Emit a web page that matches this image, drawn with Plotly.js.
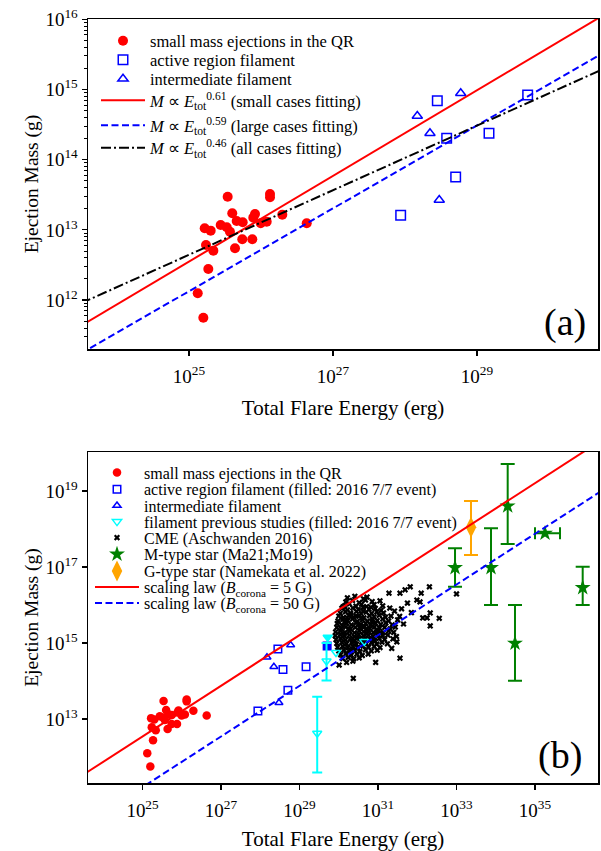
<!DOCTYPE html>
<html><head><meta charset="utf-8">
<script src="https://cdn.plot.ly/plotly-3.0.1.min.js"></script>
<style>body{margin:0;padding:0;background:#fff}</style>
</head><body><div id="chart" style="width:601px;height:851px"></div>
<script>
// ---- data (log10 exponents) ----
const qrExpE = [25.537,26.125,26.125,25.601,25.917,26.296,25.218,25.301,25.440,25.524,25.569,25.662,25.746,25.893,25.996,26.079,26.635,25.740,25.879,25.236,25.338,25.639,25.268,25.121,25.199];
const qrExpM = [13.473,13.511,13.464,13.236,13.226,13.217,13.023,12.989,13.070,13.037,12.974,13.127,13.108,13.174,13.094,13.117,13.094,12.866,12.866,12.785,12.704,12.738,12.443,12.097,11.749];
const arExpE = [28.449,28.579,29.167,29.704,28.704,27.940];
const arExpM = [14.840,14.305,14.376,14.922,13.754,13.208];
const arFilledB = [false,false,false,true,false,false]; // 2016 7/7 event (panel b)
const ifExpE = [28.774,28.171,28.347,28.476];
const ifExpM = [14.946,14.623,14.376,13.426];
// fits, panel (a): end points
const fitSmallExpE = [23.5,30.7], fitSmallExpM = [11.633,16.025];
const fitLargeExpE = [23.5,30.7], fitLargeExpM = [11.241,15.489];
const fitAllExpE = [23.5,30.7],   fitAllExpM = [11.955,15.267];
// panel (b)
const prevExpE = [29.930,30.648], prevExpM = [14.750,15.042];
const prevErrExpE = [29.688,29.451], prevErrExpM = [14.526,12.624];
const prevErrHi = [15.000,13.587], prevErrLo = [14.013,11.592];
const prevFilledExpE = [29.718], prevFilledExpM = [15.150];
const starExpE = [32.962,33.879,34.304,34.490,36.215];
const starExpM = [16.982,16.982,18.605,14.992,16.455];
const starHi = [17.492,18.018,19.711,16.000,17.008];
const starLo = [16.482,16.000,17.605,14.008,16.000];
const starXExpE = [35.255], starXExpM = [17.887], starXLo = [35.000], starXHi = [35.637];
const gExpE = [33.369], gExpM = [18.045], gHi = [18.737], gLo = [17.316];
const law5ExpE = [23.5,36.7], law5ExpM = [11.540,20.340];
const law50ExpE = [23.5,36.7], law50ExpM = [10.206,19.006];
const cmeExp = [
[30.22,16.19],[30.41,16.23],[30.63,16.16],[30.72,16.21],[31.28,16.31],
[30.18,16.08],[30.35,16.12],[30.52,16.06],[30.68,16.13],[30.85,16.09],[31.05,16.11],
[30.15,15.98],[30.27,16.03],[30.44,15.97],[30.58,16.02],[30.71,15.96],[30.9,16.01],[31.12,15.98],
[30.08,15.91],[30.22,15.87],[30.36,15.92],[30.5,15.88],[30.62,15.93],[30.77,15.89],[30.93,15.91],[31.08,15.86],[31.3,15.92],
[30.04,15.78],[30.17,15.82],[30.3,15.79],[30.45,15.83],[30.57,15.77],[30.7,15.81],[30.84,15.78],[30.97,15.82],[31.14,15.79],[31.42,15.84],
[30.0,15.71],[30.12,15.67],[30.26,15.72],[30.38,15.68],[30.51,15.71],[30.64,15.66],[30.78,15.72],[30.9,15.69],[31.03,15.73],[31.19,15.68],[31.33,15.71],
[29.98,15.58],[30.1,15.62],[30.23,15.59],[30.35,15.63],[30.47,15.57],[30.6,15.61],[30.73,15.58],[30.86,15.62],[30.98,15.59],[31.12,15.63],[31.27,15.58],[31.5,15.61],
[29.96,15.51],[30.08,15.47],[30.2,15.52],[30.32,15.48],[30.44,15.53],[30.56,15.49],[30.69,15.51],[30.81,15.47],[30.94,15.52],[31.07,15.49],[31.2,15.53],[31.36,15.48],
[29.95,15.41],[30.06,15.38],[30.18,15.42],[30.3,15.37],[30.42,15.41],[30.54,15.39],[30.66,15.43],[30.79,15.38],[30.91,15.42],[31.04,15.39],[31.17,15.41],[31.31,15.37],[31.44,15.42],
[29.92,15.29],[30.04,15.32],[30.16,15.28],[30.28,15.31],[30.4,15.27],[30.52,15.32],[30.64,15.29],[30.76,15.33],[30.88,15.28],[31.0,15.31],[31.13,15.27],[31.27,15.32],[31.4,15.28],
[29.91,15.19],[30.03,15.22],[30.15,15.18],[30.27,15.21],[30.39,15.17],[30.51,15.22],[30.63,15.19],[30.75,15.21],[30.87,15.18],[30.99,15.22],[31.12,15.19],[31.25,15.21],[31.47,15.17],
[29.93,15.09],[30.05,15.12],[30.17,15.08],[30.29,15.11],[30.41,15.07],[30.53,15.12],[30.66,15.09],[30.78,15.11],[30.9,15.08],[31.03,15.12],[31.17,15.09],[31.38,15.11],
[29.95,14.99],[30.08,15.02],[30.2,14.98],[30.33,15.01],[30.45,14.97],[30.58,15.02],[30.7,14.98],[30.83,15.01],[30.97,14.97],[31.1,15.02],[31.24,14.98],
[29.97,14.89],[30.1,14.92],[30.23,14.88],[30.36,14.91],[30.49,14.87],[30.62,14.92],[30.76,14.89],[30.9,14.91],[31.05,14.88],[31.35,14.86],
[30.0,14.79],[30.13,14.82],[30.27,14.78],[30.4,14.81],[30.54,14.77],[30.68,14.82],[30.83,14.79],[30.98,14.81],
[30.05,14.69],[30.18,14.72],[30.32,14.68],[30.46,14.71],[30.6,14.67],[30.75,14.71],
[30.1,14.59],[30.24,14.62],[30.38,14.58],[30.52,14.61],
[30.2,14.49],[30.36,14.52],
[30.11,15.95],[30.31,15.74],[30.55,15.44],[30.72,15.25],[30.47,15.14],[30.85,15.56],[30.25,15.36],[30.62,15.84],[30.38,15.05],[30.96,15.34],
[30.14,15.55],[30.82,15.94],[30.58,15.66],[30.44,15.71],[30.69,15.36],[31.08,15.26],[30.34,14.84],[30.12,15.25],[30.92,15.05],[30.21,15.67],
[31.56,16.31],[31.69,16.40],[31.82,16.48],[32.10,16.31],[32.31,16.48],[33.00,16.29],[32.07,16.08],[31.99,16.13],
[32.33,15.79],[32.56,15.65],[32.33,15.45],[32.25,15.66],[32.14,15.66],[31.60,15.90],[31.75,16.05],[31.55,15.70],[31.65,15.50],[31.85,15.80],
[31.56,14.60],[30.94,14.49],[30.37,14.07],[30.01,14.42],[31.48,15.03]
];
const xTicksA = [25,27,29], yTicksA = [12,13,14,15,16];
const xTicksB = [25,27,29,31,33,35], yTicksB = [13,15,17,19];

// ---- helpers ----
const P = a => a.map(e => Math.pow(10, e));
const FONT = 'Liberation Serif';
const RED='#ff0000', BLUE='#0000ff', CYAN='#00ffff', GREEN='#008000', ORANGE='#ffa500';
const errUp = (hi, m) => hi.map((h,i)=>Math.pow(10,h)-Math.pow(10,m[i]));
const errDn = (lo, m) => lo.map((l,i)=>Math.pow(10,m[i])-Math.pow(10,l));
const sel = (arr, flags, want) => arr.filter((_,i)=>flags[i]===want);

const traces = [];
// panel (a)
traces.push({x:P(qrExpE), y:P(qrExpM), mode:'markers', name:'small mass ejections in the QR', legend:'legend',
  marker:{symbol:'circle', size:10, color:RED}, xaxis:'x', yaxis:'y'});
traces.push({x:P(arExpE), y:P(arExpM), mode:'markers', name:'active region filament', legend:'legend2',
  marker:{symbol:'square-open', size:9.5, color:BLUE, line:{width:1.5, color:BLUE}}, xaxis:'x', yaxis:'y'});
traces.push({x:P(ifExpE), y:P(ifExpM), mode:'markers', name:'intermediate filament', legend:'legend3',
  marker:{symbol:'triangle-up-open', size:9, color:BLUE, line:{width:1.5, color:BLUE}}, xaxis:'x', yaxis:'y'});
traces.push({x:P(fitSmallExpE), y:P(fitSmallExpM), mode:'lines', legend:'legend4',
  name:'<i>M</i> \u221D <i>E</i><sub>tot</sub><sup>0.61</sup> (small cases fitting)',
  line:{color:RED, width:2}, xaxis:'x', yaxis:'y'});
traces.push({x:P(fitLargeExpE), y:P(fitLargeExpM), mode:'lines', legend:'legend5',
  name:'<i>M</i> \u221D <i>E</i><sub>tot</sub><sup>0.59</sup> (large cases fitting)',
  line:{color:BLUE, width:2, dash:'7px,3.5px'}, xaxis:'x', yaxis:'y'});
traces.push({x:P(fitAllExpE), y:P(fitAllExpM), mode:'lines', legend:'legend6',
  name:'<i>M</i> \u221D <i>E</i><sub>tot</sub><sup>0.46</sup> (all cases fitting)',
  line:{color:'#000', width:2, dash:'10px,3px,2px,3px'}, xaxis:'x', yaxis:'y'});

// panel (b)
traces.push({x:P(qrExpE), y:P(qrExpM), mode:'markers', name:'small mass ejections in the QR', legend:'legend7',
  marker:{symbol:'circle', size:8.5, color:RED}, xaxis:'x2', yaxis:'y2'});
traces.push({x:P(sel(arExpE,arFilledB,false)), y:P(sel(arExpM,arFilledB,false)), mode:'markers',
  name:'active region filament (filled: 2016 7/7 event)', legend:'legend8',
  marker:{symbol:'square-open', size:7.5, color:BLUE, line:{width:1.5, color:BLUE}}, xaxis:'x2', yaxis:'y2'});
traces.push({x:P(sel(arExpE,arFilledB,true)), y:P(sel(arExpM,arFilledB,true)), mode:'markers', showlegend:false,
  marker:{symbol:'square', size:7.5, color:BLUE, line:{width:1.5, color:BLUE}}, xaxis:'x2', yaxis:'y2'});
traces.push({x:P(ifExpE), y:P(ifExpM), mode:'markers', name:'intermediate filament', legend:'legend9',
  marker:{symbol:'triangle-up-open', size:7, color:BLUE, line:{width:1.5, color:BLUE}}, xaxis:'x2', yaxis:'y2'});
traces.push({x:P(cmeExp.map(p=>p[0])), y:P(cmeExp.map(p=>p[1])), mode:'markers', name:'CME (Aschwanden 2016)', legend:'legend11',
  marker:{symbol:'x', size:5.5, color:'#000', line:{width:0}}, xaxis:'x2', yaxis:'y2'});
traces.push({x:P(prevExpE), y:P(prevExpM), mode:'markers', name:'filament previous studies (filled: 2016 7/7 event)', legend:'legend10',
  marker:{symbol:'triangle-down-open', size:8, color:CYAN, line:{width:1.5, color:CYAN}}, xaxis:'x2', yaxis:'y2'});
traces.push({x:P(prevErrExpE), y:P(prevErrExpM), mode:'markers', showlegend:false,
  marker:{symbol:'triangle-down-open', size:8, color:CYAN, line:{width:1.5, color:CYAN}},
  error_y:{type:'data', symmetric:false, array:errUp(prevErrHi,prevErrExpM), arrayminus:errDn(prevErrLo,prevErrExpM), color:CYAN, thickness:2, width:5},
  xaxis:'x2', yaxis:'y2'});
traces.push({x:P(prevFilledExpE), y:P(prevFilledExpM), mode:'markers', showlegend:false,
  marker:{symbol:'triangle-down', size:8, color:CYAN, line:{width:1.5, color:CYAN}}, xaxis:'x2', yaxis:'y2'});
traces.push({x:P(starExpE), y:P(starExpM), mode:'markers', name:'M-type star (Ma21;Mo19)', legend:'legend12',
  marker:{symbol:'star', size:12, color:GREEN},
  error_y:{type:'data', symmetric:false, array:errUp(starHi,starExpM), arrayminus:errDn(starLo,starExpM), color:GREEN, thickness:2, width:7},
  xaxis:'x2', yaxis:'y2'});
traces.push({x:P(starXExpE), y:P(starXExpM), mode:'markers', showlegend:false,
  marker:{symbol:'star', size:12, color:GREEN},
  error_x:{type:'data', symmetric:false, array:[Math.pow(10,starXHi[0])-Math.pow(10,starXExpE[0])], arrayminus:[Math.pow(10,starXExpE[0])-Math.pow(10,starXLo[0])], color:GREEN, thickness:2, width:6},
  xaxis:'x2', yaxis:'y2'});
traces.push({x:P(gExpE), y:P(gExpM), mode:'markers', name:'G-type star (Namekata et al. 2022)', legend:'legend13',
  marker:{symbol:'diamond-tall', size:15, color:ORANGE},
  error_y:{type:'data', symmetric:false, array:errUp(gHi,gExpM), arrayminus:errDn(gLo,gExpM), color:ORANGE, thickness:2, width:7},
  xaxis:'x2', yaxis:'y2'});
traces.push({x:P(law5ExpE), y:P(law5ExpM), mode:'lines', name:'scaling law (<i>B</i><sub>corona</sub> = 5 G)', legend:'legend14',
  line:{color:RED, width:2}, xaxis:'x2', yaxis:'y2'});
traces.push({x:P(law50ExpE), y:P(law50ExpM), mode:'lines', name:'scaling law (<i>B</i><sub>corona</sub> = 50 G)', legend:'legend15',
  line:{color:BLUE, width:2, dash:'7px,3.5px'}, xaxis:'x2', yaxis:'y2'});

// ---- layout ----
const L = 88, R = 598, T = 19, B = 783, W = R-L, H = B-T;
const px = v => (v-L)/W, py = v => (B-v)/H;
function leg(xp, yp, fs){
  return {x:px(xp), y:py(yp), xanchor:'left', yanchor:'middle', bgcolor:'rgba(0,0,0,0)', borderwidth:0,
    itemwidth:44, font:{family:FONT, size:fs, color:'#000'}};
}
const supT = a => a.map(e => '10<sup>'+e+'</sup>');
function axis(extra){
  return Object.assign({type:'log', showgrid:false, zeroline:false, showline:true, mirror:true,
    linecolor:'#000', linewidth:1.5, ticks:'outside', ticklen:5, tickwidth:1.2, tickcolor:'#000',
    tickfont:{family:FONT, size:19, color:'#000'}, automargin:false}, extra);
}
const layout = {
  width:601, height:851, margin:{l:L, r:601-R, t:T, b:851-B},
  paper_bgcolor:'#fff', plot_bgcolor:'#fff', showlegend:true,
  font:{family:FONT, color:'#000', size:16},
  xaxis: axis({domain:[0,1], anchor:'y', range:[23.597,30.681], tickvals:P(xTicksA), ticktext:supT(xTicksA), ticklabelstandoff:5,
    title:{text:'Total Flare Energy (erg)', font:{family:FONT, size:21, color:'#000'}, standoff:14}}),
  yaxis: axis({domain:[py(349),1], anchor:'x', range:[11.303,16.004], tickvals:P(yTicksA), ticktext:supT(yTicksA),
    minor:{ticks:'outside', ticklen:2.5, tickwidth:1, tickcolor:'#000', dtick:'D1', showgrid:false},
    title:{text:'Ejection Mass (g)', font:{family:FONT, size:19.5, color:'#000'}}}),
  xaxis2: axis({domain:[0,1], anchor:'y2', range:[23.611,36.605], tickvals:P(xTicksB), ticktext:supT(xTicksB), ticklabelstandoff:5,
    title:{text:'Total Flare Energy (erg)', font:{family:FONT, size:21, color:'#000'}, standoff:14}}),
  yaxis2: axis({domain:[0,py(452)], anchor:'x2', range:[11.316,20.026], tickvals:P(yTicksB), ticktext:supT(yTicksB),
    title:{text:'Ejection Mass (g)', font:{family:FONT, size:19.5, color:'#000'}}}),
  legend: leg(96,41,16.5), legend2: leg(96,60,16.5), legend3: leg(96,79,16.5),
  legend4: leg(96,100.5,16.5), legend5: leg(96,125.5,16.5), legend6: leg(96,148,16.5),
  legend7: leg(90,472.7,16), legend8: leg(90,489.3,16), legend9: leg(90,505.7,16),
  legend10: leg(90,521.7,16), legend11: leg(90,537.7,16), legend12: leg(90,554.3,16),
  legend13: leg(90,571,16), legend14: leg(90,587,16), legend15: leg(90,603,16),
  annotations:[
    {text:'(a)', xref:'paper', yref:'paper', x:px(565), y:py(322), xanchor:'center', yanchor:'middle', showarrow:false, font:{family:FONT, size:38, color:'#000'}},
    {text:'(b)', xref:'paper', yref:'paper', x:px(560), y:py(755), xanchor:'center', yanchor:'middle', showarrow:false, font:{family:FONT, size:38, color:'#000'}}
  ]
};
Plotly.newPlot('chart', traces, layout, {staticPlot:true, displayModeBar:false});
</script></body></html>
